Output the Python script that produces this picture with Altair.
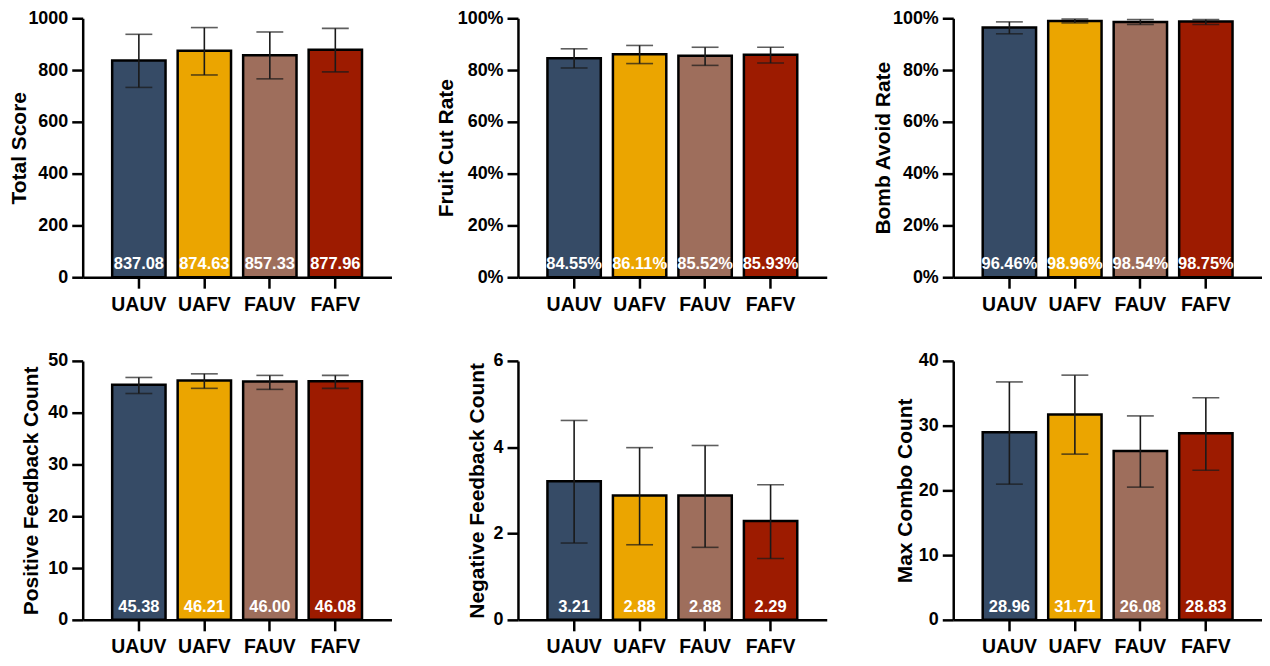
import altair as alt
import pandas as pd

groups = ["UAUV", "UAFV", "FAUV", "FAFV"]
colors = ["#364B66", "#EBA500", "#9E6E5C", "#9D1B00"]

# Total Score
total_mean = [837.08, 874.63, 857.33, 877.96]
total_low = [733, 781, 766, 793]
total_high = [938, 964, 947, 961]

# Fruit Cut Rate (fractions)
fruit_mean = [0.8455, 0.8611, 0.8552, 0.8593]
fruit_low = [0.808, 0.825, 0.818, 0.827]
fruit_high = [0.882, 0.895, 0.888, 0.888]

# Bomb Avoid Rate (fractions)
bomb_mean = [0.9646, 0.9896, 0.9854, 0.9875]
bomb_low = [0.940, 0.982, 0.976, 0.976]
bomb_high = [0.986, 0.997, 0.995, 0.995]

# Positive Feedback Count
pos_mean = [45.38, 46.21, 46.00, 46.08]
pos_low = [43.7, 44.7, 44.5, 44.7]
pos_high = [46.8, 47.5, 47.2, 47.2]

# Negative Feedback Count
neg_mean = [3.21, 2.88, 2.88, 2.29]
neg_low = [1.78, 1.74, 1.68, 1.42]
neg_high = [4.62, 3.99, 4.04, 3.13]

# Max Combo Count
combo_mean = [28.96, 31.71, 26.08, 28.83]
combo_low = [20.96, 25.6, 20.5, 23.1]
combo_high = [36.75, 37.8, 31.5, 34.3]

FONT = "Liberation Sans"


def panel(title, means, lows, highs, ticks, axis_fmt, text_fmt, title_x, width, height):
    df = pd.DataFrame({"group": groups, "mean": means, "low": lows, "high": highs})
    base = alt.Chart(df)
    x = alt.X(
        "group:N",
        sort=groups,
        scale=alt.Scale(paddingInner=0.185, paddingOuter=0.45),
        axis=alt.Axis(title=None, labelAngle=0, bandPosition=0.5,
                      labelFontSize=19.5, labelPadding=7),
    )
    yscale = alt.Scale(domain=[ticks[0], ticks[-1]], nice=False)
    y = alt.Y(
        "mean:Q",
        scale=yscale,
        axis=alt.Axis(values=ticks, format=axis_fmt, title=title, titleX=title_x,
                      labelFontSize=18, labelPadding=4),
    )
    bars = base.mark_bar(stroke="black", strokeWidth=2.5).encode(
        x=x,
        y=y,
        color=alt.Color("group:N", scale=alt.Scale(domain=groups, range=colors), legend=None),
    )
    rule = base.mark_rule(color="#1a1a1a", strokeWidth=1.6).encode(
        x=alt.X("group:N", sort=groups), y=alt.Y("low:Q", scale=yscale), y2="high:Q"
    )
    cap_lo = base.mark_tick(color="#1a1a1a", thickness=1.6, size=27).encode(
        x=alt.X("group:N", sort=groups), y=alt.Y("low:Q", scale=yscale)
    )
    cap_hi = base.mark_tick(color="#1a1a1a", thickness=1.6, size=27).encode(
        x=alt.X("group:N", sort=groups), y=alt.Y("high:Q", scale=yscale)
    )
    text = base.mark_text(
        color="white", font=FONT, fontWeight="bold", fontSize=16.5,
        baseline="alphabetic", dy=-8,
    ).encode(
        x=alt.X("group:N", sort=groups),
        y=alt.datum(0),
        text=alt.Text("mean:Q", format=text_fmt),
    )
    return alt.layer(bars, rule, cap_lo, cap_hi, text).properties(width=width, height=height)


H = 260
W = 310
p1 = panel("Total Score", total_mean, total_low, total_high,
           [0, 200, 400, 600, 800, 1000], "d", ".2f", -53.6, W, H)
p2 = panel("Fruit Cut Rate", fruit_mean, fruit_low, fruit_high,
           [0, 0.2, 0.4, 0.6, 0.8, 1.0], ".0%", ".2%", -61.6, W, H)
p3 = panel("Bomb Avoid Rate", bomb_mean, bomb_low, bomb_high,
           [0, 0.2, 0.4, 0.6, 0.8, 1.0], ".0%", ".2%", -59.6, W, H)
p4 = panel("Positive Feedback Count", pos_mean, pos_low, pos_high,
           [0, 10, 20, 30, 40, 50], "d", ".2f", -41.6, W, H)
p5 = panel("Negative Feedback Count", neg_mean, neg_low, neg_high,
           [0, 2, 4, 6], "d", ".2f", -30.6, W, H)
p6 = panel("Max Combo Count", combo_mean, combo_low, combo_high,
           [0, 10, 20, 30, 40], "d", ".2f", -37.6, W, H)

chart = (
    alt.concat(p1, p2, p3, p4, p5, p6, columns=3, bounds="flush",
               spacing={"row": 84, "column": 127})
    .properties(padding={"left": 0, "top": 0, "right": 0, "bottom": 0})
    .configure(font=FONT)
    .configure_view(stroke=None)
    .configure_axis(
        grid=False,
        domainColor="black",
        domainWidth=2.5,
        tickColor="black",
        tickWidth=2.5,
        tickSize=11,
        labelFont=FONT,
        labelFontWeight="bold",
        labelColor="black",
        titleFont=FONT,
        titleFontWeight="bold",
        titleFontSize=21,
        titleColor="black",
    )
)

chart.save("out.html", embed_options={"renderer": "svg", "actions": False})
